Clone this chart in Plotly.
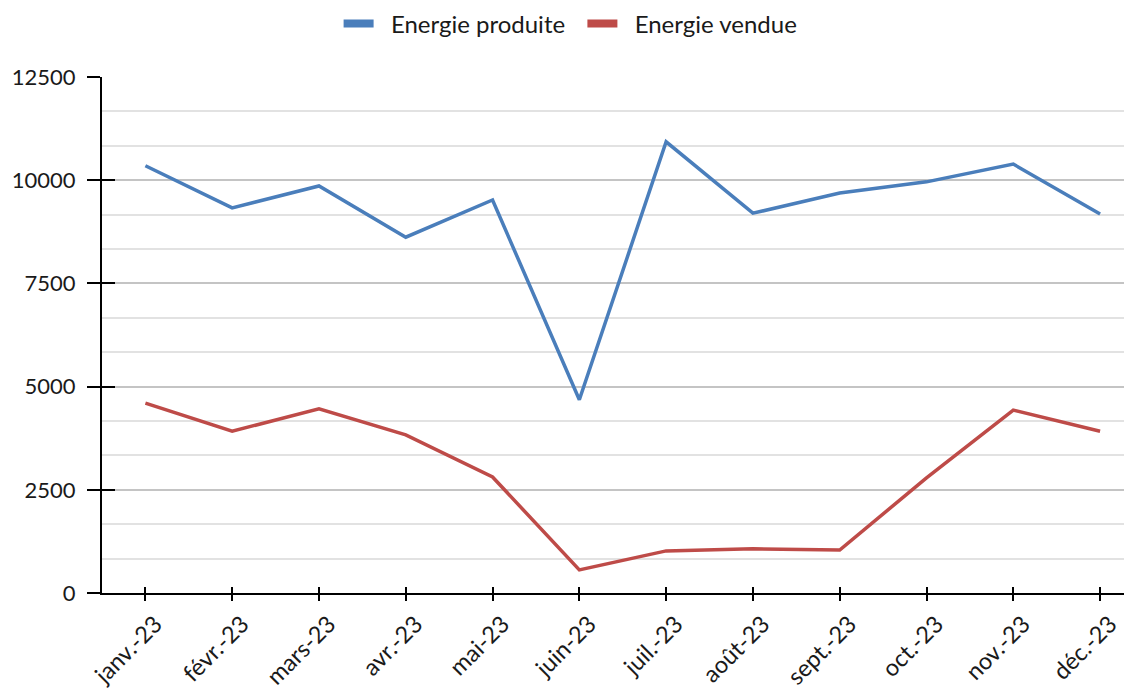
import plotly.graph_objects as go

MONTHS = ["janv.-23", "févr.-23", "mars-23", "avr.-23", "mai-23", "juin-23",
          "juil.-23", "août-23", "sept.-23", "oct.-23", "nov.-23", "déc.-23"]
ENERGIE_PRODUITE = [10350, 9330, 9860, 8620, 9520, 4680,
                    10930, 9200, 9690, 9960, 10390, 9180]
ENERGIE_VENDUE = [4600, 3920, 4460, 3830, 2810, 560,
                  1020, 1070, 1040, 2790, 4430, 3920]
Y_TICKS = [0, 2500, 5000, 7500, 10000, 12500]

BLUE = "#4A7EBB"
RED = "#BE4B48"
FONT = "Lato, Carlito, sans-serif"
NB = "\u00a0"

x = list(range(len(MONTHS)))
x_range = [-0.5, 11.46]
y_range = [0, 12500]

fig = go.Figure()
fig.add_scatter(x=x, y=ENERGIE_PRODUITE, mode="lines", name="Energie produite",
                line={"color": BLUE, "width": 3.5}, showlegend=False)
fig.add_scatter(x=x, y=ENERGIE_VENDUE, mode="lines", name="Energie vendue",
                line={"color": RED, "width": 3.5}, showlegend=False)
# legend-only entries with thick short swatches
for name, color in [(NB * 2 + "Energie produite" + NB * 2, BLUE),
                    (NB * 2 + "Energie vendue", RED)]:
    fig.add_scatter(x=[None], y=[None], mode="lines", name=name,
                    line={"color": color, "width": 8})
# invisible trace so the overlay axes (inner half of crossing ticks) are drawn
fig.add_scatter(x=[0], y=[0], xaxis="x2", yaxis="y2", mode="markers",
                marker={"opacity": 0}, showlegend=False, hoverinfo="skip")

fig.update_layout(
    width=1132, height=689,
    margin={"l": 94, "r": 0, "t": 69, "b": 104, "autoexpand": False},
    paper_bgcolor="white", plot_bgcolor="white",
    font={"family": FONT, "size": 22, "color": "#1a1a1a"},
    showlegend=True,
    legend={"orientation": "h", "x": 0.497, "xref": "container", "xanchor": "center",
            "y": 0.977, "yref": "container", "yanchor": "middle",
            "font": {"size": 24}, "itemwidth": 30, "tracegroupgap": 0},
    xaxis={"range": x_range, "tickvals": x, "ticktext": MONTHS, "tickangle": -45,
           "tickfont": {"size": 23.5}, "ticklabelshift": 10, "ticklabelstandoff": 0,
           "ticks": "outside", "ticklen": 6, "tickwidth": 2, "tickcolor": "black",
           "showline": True, "linecolor": "black", "linewidth": 2,
           "showgrid": False, "zeroline": False, "automargin": False},
    yaxis={"range": y_range, "tickvals": Y_TICKS, "tickformat": "d",
           "ticklabelstandoff": 7,
           "ticks": "outside", "ticklen": 13, "tickwidth": 2, "tickcolor": "black",
           "showline": True, "linecolor": "black", "linewidth": 2,
           "showgrid": True, "gridcolor": "#c4c4c4", "gridwidth": 1.5,
           "zeroline": False, "automargin": False,
           "minor": {"dtick": 2500 / 3, "tick0": 0, "showgrid": True,
                     "gridcolor": "#e2e2e2", "gridwidth": 1.5, "ticks": ""}},
    # overlay axes: inner half of the crossing tick marks (range padded a hair so the
    # end ticks are not dropped)
    xaxis2={"overlaying": "x", "anchor": "y", "range": x_range, "tickvals": x,
            "ticks": "inside", "ticklen": 6, "tickcolor": "black", "tickwidth": 2,
            "showticklabels": False, "showgrid": False, "zeroline": False,
            "side": "bottom", "automargin": False},
    yaxis2={"overlaying": "y", "anchor": "x", "range": [-1, 12501], "tickvals": Y_TICKS,
            "ticks": "inside", "ticklen": 13, "tickcolor": "black", "tickwidth": 2,
            "showticklabels": False, "showgrid": False, "zeroline": False,
            "side": "left", "automargin": False},
)

fig.write_html("out.html")
